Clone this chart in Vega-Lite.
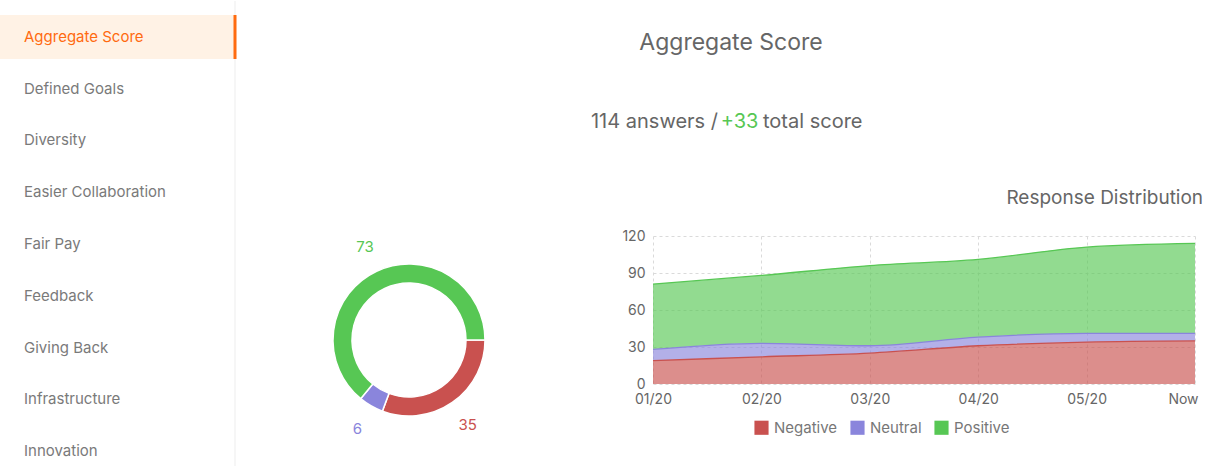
{
  "$schema": "https://vega.github.io/schema/vega-lite/v6.json",
  "padding": 0,
  "spacing": 0,
  "background": "white",
  "config": {
    "view": {"stroke": null},
    "font": "Inter",
    "title": {"font": "Inter"},
    "axis": {"labelFont": "Inter"},
    "legend": {"labelFont": "Inter"}
  },
  "datasets": {
    "menu": [
      {"item": "Aggregate Score", "selected": true},
      {"item": "Defined Goals", "selected": false},
      {"item": "Diversity", "selected": false},
      {"item": "Easier Collaboration", "selected": false},
      {"item": "Fair Pay", "selected": false},
      {"item": "Feedback", "selected": false},
      {"item": "Giving Back", "selected": false},
      {"item": "Infrastructure", "selected": false},
      {"item": "Innovation", "selected": false}
    ],
    "header": [
      {"line": "title", "part": "title", "text": "Aggregate Score"},
      {"line": "sub", "part": "a", "text": "114 answers /"},
      {"line": "sub", "part": "b", "text": "+33"},
      {"line": "sub", "part": "c", "text": "total score"}
    ],
    "donut": [
      {"sentiment": "Negative", "count": 35, "order": 1},
      {"sentiment": "Neutral", "count": 6, "order": 2},
      {"sentiment": "Positive", "count": 73, "order": 3}
    ],
    "dist": [
      {"month": "01/20", "sentiment": "Negative", "value": 19, "order": 1},
      {"month": "01/20", "sentiment": "Neutral", "value": 9, "order": 2},
      {"month": "01/20", "sentiment": "Positive", "value": 53, "order": 3},
      {"month": "02/20", "sentiment": "Negative", "value": 22, "order": 1},
      {"month": "02/20", "sentiment": "Neutral", "value": 11, "order": 2},
      {"month": "02/20", "sentiment": "Positive", "value": 55, "order": 3},
      {"month": "03/20", "sentiment": "Negative", "value": 25, "order": 1},
      {"month": "03/20", "sentiment": "Neutral", "value": 6, "order": 2},
      {"month": "03/20", "sentiment": "Positive", "value": 65, "order": 3},
      {"month": "04/20", "sentiment": "Negative", "value": 31, "order": 1},
      {"month": "04/20", "sentiment": "Neutral", "value": 7, "order": 2},
      {"month": "04/20", "sentiment": "Positive", "value": 63, "order": 3},
      {"month": "05/20", "sentiment": "Negative", "value": 34, "order": 1},
      {"month": "05/20", "sentiment": "Neutral", "value": 7, "order": 2},
      {"month": "05/20", "sentiment": "Positive", "value": 70, "order": 3},
      {"month": "Now", "sentiment": "Negative", "value": 35, "order": 1},
      {"month": "Now", "sentiment": "Neutral", "value": 6, "order": 2},
      {"month": "Now", "sentiment": "Positive", "value": 73, "order": 3}
    ]
  },
  "hconcat": [
    {
      "width": 235,
      "height": 466,
      "data": {"name": "menu"},
      "layer": [
        {
          "transform": [{"filter": "datum.selected"}],
          "mark": {"type": "rect", "color": "#FFF2E5"},
          "encoding": {
            "y": {"field": "item", "type": "nominal", "sort": null, "axis": null,
                  "scale": {"type": "band", "range": [14, 472], "paddingInner": 0.15, "paddingOuter": 0}},
            "x": {"value": 0},
            "x2": {"value": "width"}
          }
        },
        {
          "transform": [{"filter": "datum.selected"}],
          "mark": {"type": "rule", "color": "#EDEDED", "strokeWidth": 1},
          "encoding": {"x": {"value": "width"}}
        },
        {
          "transform": [{"filter": "datum.selected"}],
          "mark": {"type": "rect", "fill": "#FF6B0F", "stroke": "#FF6B0F", "strokeWidth": 3},
          "encoding": {
            "y": {"field": "item", "type": "nominal", "sort": null, "axis": null},
            "x": {"value": "width"},
            "x2": {"value": "width"}
          }
        },
        {
          "mark": {"type": "text", "align": "left", "baseline": "middle", "dx": 24, "fontSize": 15},
          "encoding": {
            "y": {"field": "item", "type": "nominal", "sort": null, "axis": null},
            "x": {"value": 0},
            "text": {"field": "item"},
            "color": {"condition": {"test": "datum.selected", "value": "#FF6A10"}, "value": "#7A7A7A"}
          }
        }
      ]
    },
    {
      "spacing": 25,
      "vconcat": [
        {
          "width": 980,
          "height": 163,
          "data": {"name": "header"},
          "encoding": {
            "y": {"field": "line", "type": "nominal", "sort": ["title", "sub"], "axis": null,
                  "scale": {"type": "point", "padding": 0.519}},
            "text": {"field": "text"}
          },
          "layer": [
            {
              "transform": [{"filter": "datum.part == 'title'"}],
              "mark": {"type": "text", "align": "center", "baseline": "middle", "dx": 4, "fontSize": 23, "color": "#666666"}
            },
            {
              "transform": [{"filter": "datum.part == 'a'"}],
              "mark": {"type": "text", "align": "right", "baseline": "middle", "dx": -9, "fontSize": 20, "color": "#666666"}
            },
            {
              "transform": [{"filter": "datum.part == 'b'"}],
              "mark": {"type": "text", "align": "center", "baseline": "middle", "dx": 12.5, "fontSize": 20, "color": "#57C754"}
            },
            {
              "transform": [{"filter": "datum.part == 'c'"}],
              "mark": {"type": "text", "align": "left", "baseline": "middle", "dx": 36, "fontSize": 20, "color": "#666666"}
            }
          ]
        },
        {
          "spacing": 40,
          "resolve": {"scale": {"color": "independent"}, "legend": {"color": "independent"}},
          "hconcat": [
            {
              "width": 344,
              "height": 104,
              "data": {"name": "donut"},
              "encoding": {
                "theta": {"field": "count", "type": "quantitative", "stack": true,
                          "scale": {"range": [1.5708, 7.8540]}},
                "order": {"field": "order", "type": "quantitative"},
                "color": {"field": "sentiment", "type": "nominal", "legend": null,
                          "scale": {"domain": ["Negative", "Neutral", "Positive"], "range": ["#C9514F", "#8A85DC", "#57C754"]}},
                "y": {"value": "height"}
              },
              "layer": [
                {"mark": {"type": "arc", "innerRadius": 57, "outerRadius": 76, "stroke": "white", "strokeWidth": 1.5}},
                {"mark": {"type": "text", "radius": 103, "fontSize": 15, "baseline": "middle", "align": "center"},
                 "encoding": {"text": {"field": "count", "type": "quantitative"}}}
              ]
            },
            {
              "width": 542,
              "height": 148,
              "data": {"name": "dist"},
              "title": {"text": "Response Distribution", "anchor": "end", "fontSize": 19, "fontWeight": "normal", "color": "#666666", "dx": 5, "offset": 21},
              "encoding": {
                "x": {"field": "month", "type": "ordinal", "sort": ["01/20", "02/20", "03/20", "04/20", "05/20", "Now"],
                      "scale": {"type": "point", "padding": 0},
                      "axis": {"title": null, "labelAngle": 0, "domain": false, "ticks": false, "grid": true,
                               "gridDash": [3, 3], "gridColor": "#DADADA", "labelColor": "#666666", "labelFontSize": 14,
                               "labelPadding": 8,
                               "labelOffset": {"condition": {"test": "datum.label == 'Now'", "value": -12}, "value": 0}}},
                "y": {"field": "value", "type": "quantitative", "stack": "zero",
                      "scale": {"domain": [0, 120]},
                      "axis": {"title": null, "values": [0, 30, 60, 90, 120], "domain": false, "ticks": false, "grid": true,
                               "gridDash": [3, 3], "gridColor": "#DADADA", "labelColor": "#666666", "labelFontSize": 14,
                               "labelPadding": 8}},
                "color": {"field": "sentiment", "type": "nominal",
                          "scale": {"domain": ["Negative", "Neutral", "Positive"], "range": ["#C9514F", "#8A85DC", "#57C754"]},
                          "legend": {"orient": "none", "legendX": 101, "legendY": 184, "direction": "horizontal", "title": null, "symbolType": "square",
                                     "symbolSize": 200, "symbolStrokeWidth": 0, "symbolOpacity": 1, "labelFontSize": 15, "labelColor": "#777777",
                                     "columnPadding": 12, "labelOffset": 5}},
                "order": {"field": "order", "type": "quantitative"}
              },
              "layer": [
                {"mark": {"type": "area", "interpolate": "monotone", "fillOpacity": 0.65}},
                {"mark": {"type": "line", "interpolate": "monotone", "strokeWidth": 1.3}}
              ]
            }
          ]
        }
      ]
    }
  ]
}
